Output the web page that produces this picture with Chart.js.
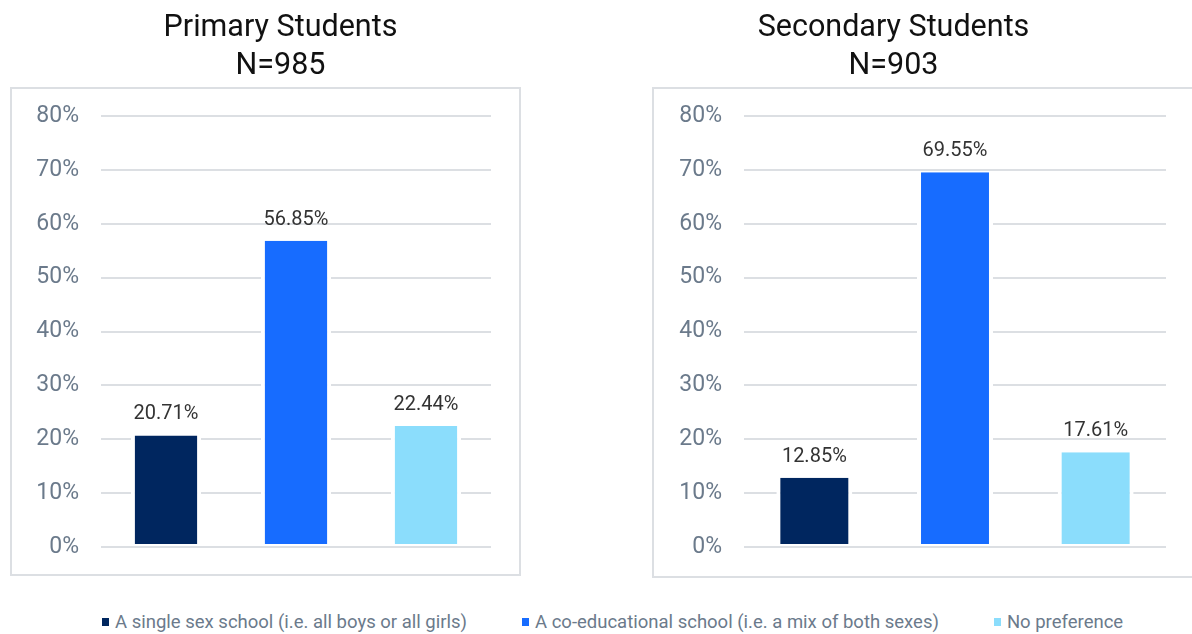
<!DOCTYPE html>
<html>
<head>
<meta charset="utf-8">
<script src="https://cdn.jsdelivr.net/npm/chart.js@4"></script>
<style>
    body { margin: 0; background: #fff; width: 1192px; height: 634px; overflow: hidden; position: relative; font-family: Roboto, sans-serif; }
    .frame { position: absolute; border: 2px solid #dcdfe3; box-sizing: border-box; }
    #primaryFrame { left: 10px; top: 87px; width: 511px; height: 489px; }
    #secondaryFrame { left: 652px; top: 87px; width: 560px; height: 491px; }
    .wrap { position: absolute; top: 0; height: 590px; }
    #primaryWrap { left: 0; width: 560px; }
    #secondaryWrap { left: 596px; width: 596px; }
    #legend { position: absolute; left: 102px; top: 611px; display: flex; gap: 55px; font-size: 18.5px; color: #6b7a8b; white-space: nowrap; }
    #legend span.item { display: flex; align-items: center; }
    #legend span.box { display: inline-block; width: 7px; height: 8px; margin-right: 6px; }
</style>
</head>
<body>
<div class="frame" id="primaryFrame"></div>
<div class="frame" id="secondaryFrame"></div>
<div class="wrap" id="primaryWrap"><canvas id="primaryChart"></canvas></div>
<div class="wrap" id="secondaryWrap"><canvas id="secondaryChart"></canvas></div>
<div id="legend"></div>

<script>
// school preference answers, share of respondents in %
const categories = [
    "A single sex school (i.e. all boys or all girls)",
    "A co-educational school (i.e. a mix of both sexes)",
    "No preference"
];
const barColors = ["#00265F", "#176CFF", "#8BDDFC"];
const primaryValues = [20.71, 56.85, 22.44];
const secondaryValues = [12.85, 69.55, 17.61];
const primaryTitle = ["Primary Students", "N=985"];
const secondaryTitle = ["Secondary Students", "N=903"];
const yTicks = [0, 10, 20, 30, 40, 50, 60, 70, 80];

// writes the value above each bar
const valueLabels = {
    id: "valueLabels",
    afterDatasetsDraw(chart) {
        const ctx = chart.ctx;
        const meta = chart.getDatasetMeta(0);
        const values = chart.data.datasets[0].data;
        ctx.save();
        ctx.font = "20px Roboto, sans-serif";
        ctx.fillStyle = "#333333";
        ctx.textAlign = "center";
        ctx.textBaseline = "alphabetic";
        meta.data.forEach((bar, i) => {
            ctx.fillText(values[i].toFixed(2) + "%", bar.x, bar.y - 16);
        });
        ctx.restore();
    }
};

// the title is not centred on the plot, nudge it sideways
const titleShift = {
    id: "titleShift",
    afterLayout(chart, args, opts) {
        const t = chart.titleBlock;
        if (t && opts.shift) {
            t.left += opts.shift;
            t.right += opts.shift;
        }
    }
};

function createChart(ctx, values, title, padding, shift) {
    return new Chart(ctx, {
        type: "bar",
        data: {
            labels: categories,
            datasets: [{
                data: values,
                backgroundColor: barColors,
                borderColor: "#ffffff",
                borderWidth: { top: 0, left: 4, right: 4, bottom: 2 },
                borderSkipped: false,
                barPercentage: 0.54,
                categoryPercentage: 1
            }]
        },
        options: {
            responsive: true,
            maintainAspectRatio: false,
            animation: false,
            layout: { padding: padding },
            scales: {
                x: { display: false },
                y: {
                    min: 0,
                    max: 80,
                    afterBuildTicks: (scale) => {
                        scale.ticks = yTicks.map(v => ({ value: v }));
                    },
                    afterFit: (scale) => { scale.width = 91; },
                    ticks: {
                        callback: (v) => v + "%",
                        color: "#6b7a8b",
                        font: { family: "Roboto", size: 23 },
                        padding: 22
                    },
                    grid: {
                        color: "#dcdfe3",
                        lineWidth: 2,
                        drawTicks: false
                    },
                    border: { display: false }
                }
            },
            plugins: {
                legend: { display: false },
                tooltip: { enabled: false },
                title: {
                    display: true,
                    text: title,
                    color: "#111111",
                    font: { family: "Roboto", size: 30.5, weight: "normal", lineHeight: 1.23 },
                    padding: { top: 10, bottom: 31 }
                },
                titleShift: { shift: shift }
            }
        },
        plugins: [valueLabels, titleShift]
    });
}

createChart(document.getElementById("primaryChart").getContext("2d"),
    primaryValues, primaryTitle, { left: 10, right: 69, top: 0, bottom: 43 }, 30);
createChart(document.getElementById("secondaryChart").getContext("2d"),
    secondaryValues, secondaryTitle, { left: 57, right: 26, top: 0, bottom: 43 }, -16);

// shared legend under both charts
const legend = document.getElementById("legend");
categories.forEach((name, i) => {
    const item = document.createElement("span");
    item.className = "item";
    const box = document.createElement("span");
    box.className = "box";
    box.style.background = barColors[i];
    item.appendChild(box);
    item.appendChild(document.createTextNode(name));
    legend.appendChild(item);
});
</script>
</body>
</html>
